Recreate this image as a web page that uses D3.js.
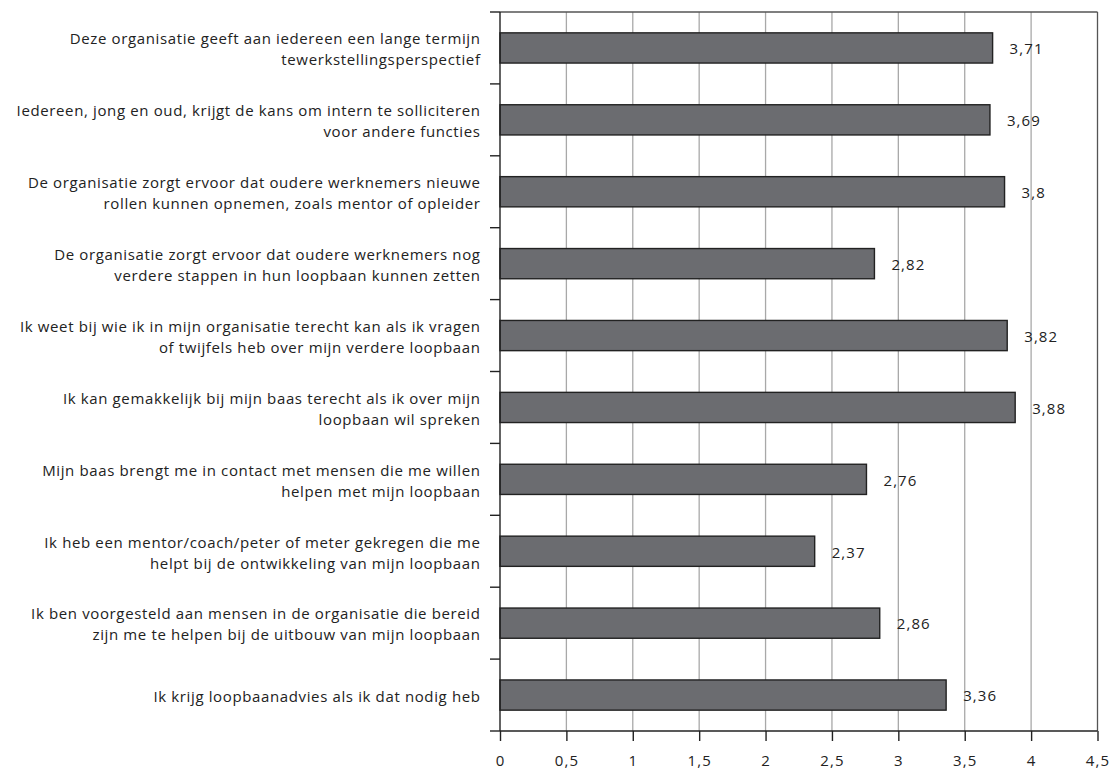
<!DOCTYPE html>
<html><head><meta charset="utf-8">
<script src="https://cdn.jsdelivr.net/npm/d3@7"></script>
<style>body{margin:0;background:#fff;} svg{display:block;}</style>
</head><body>
<svg id="c" width="1111" height="770"></svg>
<script>
const labels = [
  ["Deze organisatie geeft aan iedereen een lange termijn", "tewerkstellingsperspectief"],
  ["Iedereen, jong en oud, krijgt de kans om intern te solliciteren", "voor andere functies"],
  ["De organisatie zorgt ervoor dat oudere werknemers nieuwe", "rollen kunnen opnemen, zoals mentor of opleider"],
  ["De organisatie zorgt ervoor dat oudere werknemers nog", "verdere stappen in hun loopbaan kunnen zetten"],
  ["Ik weet bij wie ik in mijn organisatie terecht kan als ik vragen", "of twijfels heb over mijn verdere loopbaan"],
  ["Ik kan gemakkelijk bij mijn baas terecht als ik over mijn", "loopbaan wil spreken"],
  ["Mijn baas brengt me in contact met mensen die me willen", "helpen met mijn loopbaan"],
  ["Ik heb een mentor/coach/peter of meter gekregen die me", "helpt bij de ontwikkeling van mijn loopbaan"],
  ["Ik ben voorgesteld aan mensen in de organisatie die bereid", "zijn me te helpen bij de uitbouw van mijn loopbaan"],
  ["Ik krijg loopbaanadvies als ik dat nodig heb"]
];
const values = [3.71, 3.69, 3.8, 2.82, 3.82, 3.88, 2.76, 2.37, 2.86, 3.36];
const xTicks = [0, 0.5, 1, 1.5, 2, 2.5, 3, 3.5, 4, 4.5];

const FONT = "'Open Sans', sans-serif";
const svg = d3.select("#c");
const mLeft = 500, mRight = 1097.5, mTop = 12, mBottom = 731;
const x = d3.scaleLinear().domain([0, 4.5]).range([mLeft, mRight]);
const idx = d3.range(values.length);
const y = d3.scaleBand().domain(idx).range([mTop, mBottom]).padding(0);
const barH = y.bandwidth() * 0.42;
const fmt = v => String(v).replace(".", ",");

// gridlines
svg.append("g").selectAll("line").data(xTicks.filter(t => t > 0 && t < 4.5)).join("line")
  .attr("x1", d => x(d)).attr("x2", d => x(d)).attr("y1", mTop).attr("y2", mBottom)
  .attr("stroke", "#a8a8a8").attr("stroke-width", 1.3);

// frame top & right
svg.append("line").attr("x1", mLeft).attr("x2", mRight).attr("y1", mTop).attr("y2", mTop)
  .attr("stroke", "#555").attr("stroke-width", 1.3);
svg.append("line").attr("x1", mRight).attr("x2", mRight).attr("y1", mTop).attr("y2", mBottom)
  .attr("stroke", "#555").attr("stroke-width", 1.3);

// bars
svg.append("g").selectAll("rect").data(idx).join("rect")
  .attr("x", mLeft).attr("y", i => y(i) + (y.bandwidth() - barH) / 2)
  .attr("width", i => x(values[i]) - mLeft).attr("height", barH)
  .attr("fill", "#6b6c70").attr("stroke", "#222").attr("stroke-width", 1.4);

// value labels
svg.append("g").selectAll("text").data(idx).join("text")
  .attr("x", i => x(values[i]) + 17).attr("y", i => y(i) + y.bandwidth() / 2 + 1)
  .attr("dy", "0.35em").attr("font-family", FONT).attr("font-size", 15)
  .attr("letter-spacing", "1.1px").attr("fill", "#222")
  .text(i => fmt(values[i]));

// x axis
const xAxis = d3.axisBottom(x).tickValues(xTicks).tickFormat(fmt).tickSize(10).tickPadding(14);
const gx = svg.append("g").attr("transform", `translate(0,${mBottom})`).call(xAxis);
gx.select(".domain").attr("stroke", "#222").attr("stroke-width", 1.4).attr("d", `M${mLeft},0H${mRight}`);
gx.selectAll(".tick line").attr("stroke", "#222").attr("stroke-width", 1.4);
gx.selectAll(".tick text").attr("font-family", FONT).attr("font-size", 15)
  .attr("letter-spacing", "1.1px").attr("fill", "#222");

// y axis line and boundary ticks
svg.append("line").attr("x1", mLeft).attr("x2", mLeft).attr("y1", mTop).attr("y2", mBottom)
  .attr("stroke", "#222").attr("stroke-width", 1.4);
const bounds = idx.map(i => y(i)).concat([mBottom]);
svg.append("g").selectAll("line").data(bounds).join("line")
  .attr("x1", mLeft - 10).attr("x2", mLeft).attr("y1", d => d).attr("y2", d => d)
  .attr("stroke", "#222").attr("stroke-width", 1.4);

// category labels
const lh = 21;
const g = svg.append("g");
idx.forEach(i => {
  const lines = labels[i];
  const cy = y(i) + y.bandwidth() / 2 + 1.5;
  const t = g.append("text").attr("text-anchor", "end").attr("font-family", FONT)
    .attr("font-size", 15).attr("letter-spacing", "0.63px").attr("fill", "#222");
  lines.forEach((s, k) => {
    t.append("tspan").attr("x", 480.6)
      .attr("y", cy + (k - (lines.length - 1) / 2) * lh).attr("dy", "0.35em").text(s);
  });
});
</script>
</body></html>
